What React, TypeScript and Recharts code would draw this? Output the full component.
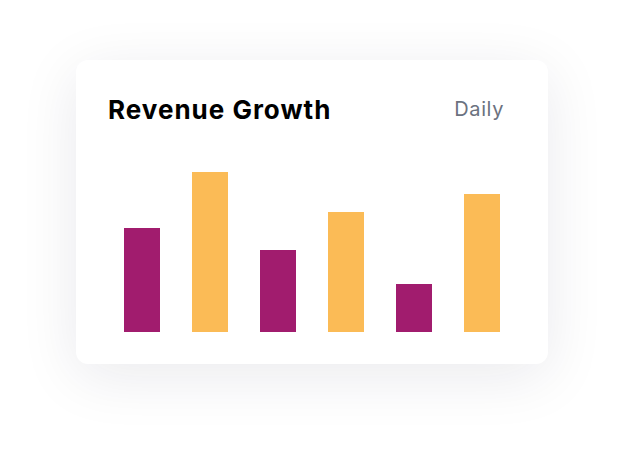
import { BarChart, Bar, Cell, XAxis, YAxis } from 'recharts';

const DAYS = ['Mon', 'Tue', 'Wed', 'Thu', 'Fri', 'Sat'];
const REVENUE = [52, 80, 41, 60, 24, 69];
const BAR_COLORS = ['#A11C6E', '#FBBB56'];

export default function App() {
  const data = DAYS.map((day, i) => ({ day, revenue: REVENUE[i] }));

  return (
    <div
      style={{
        position: 'fixed',
        inset: 0,
        background: '#ffffff',
        fontFamily: 'Inter, "Noto Sans", sans-serif',
      }}
    >
      <div
        style={{
          position: 'absolute',
          left: 76,
          top: 60,
          width: 472,
          height: 304,
          background: '#ffffff',
          borderRadius: 12,
          boxShadow: '0 12px 60px rgba(20, 20, 50, 0.09)',
        }}
      >
        <div
          style={{
            position: 'absolute',
            left: 32,
            top: 34,
            fontSize: 26,
            fontWeight: 700,
            letterSpacing: 1,
            color: '#000000',
            lineHeight: '32px',
          }}
        >
          Revenue Growth
        </div>
        <div
          style={{
            position: 'absolute',
            right: 44,
            top: 36,
            fontSize: 20,
            letterSpacing: 0.6,
            color: '#6B7280',
            lineHeight: '26px',
          }}
        >
          Daily
        </div>
        <div style={{ position: 'absolute', left: 32, top: 112 }}>
          <BarChart
            width={408}
            height={160}
            data={data}
            margin={{ top: 0, right: 0, bottom: 0, left: 0 }}
          >
            <XAxis dataKey="day" hide />
            <YAxis hide domain={[0, 80]} />
            <Bar dataKey="revenue" barSize={36} isAnimationActive={false}>
              {data.map((_, index) => (
                <Cell key={index} fill={BAR_COLORS[index % BAR_COLORS.length]} />
              ))}
            </Bar>
          </BarChart>
        </div>
      </div>
    </div>
  );
}
